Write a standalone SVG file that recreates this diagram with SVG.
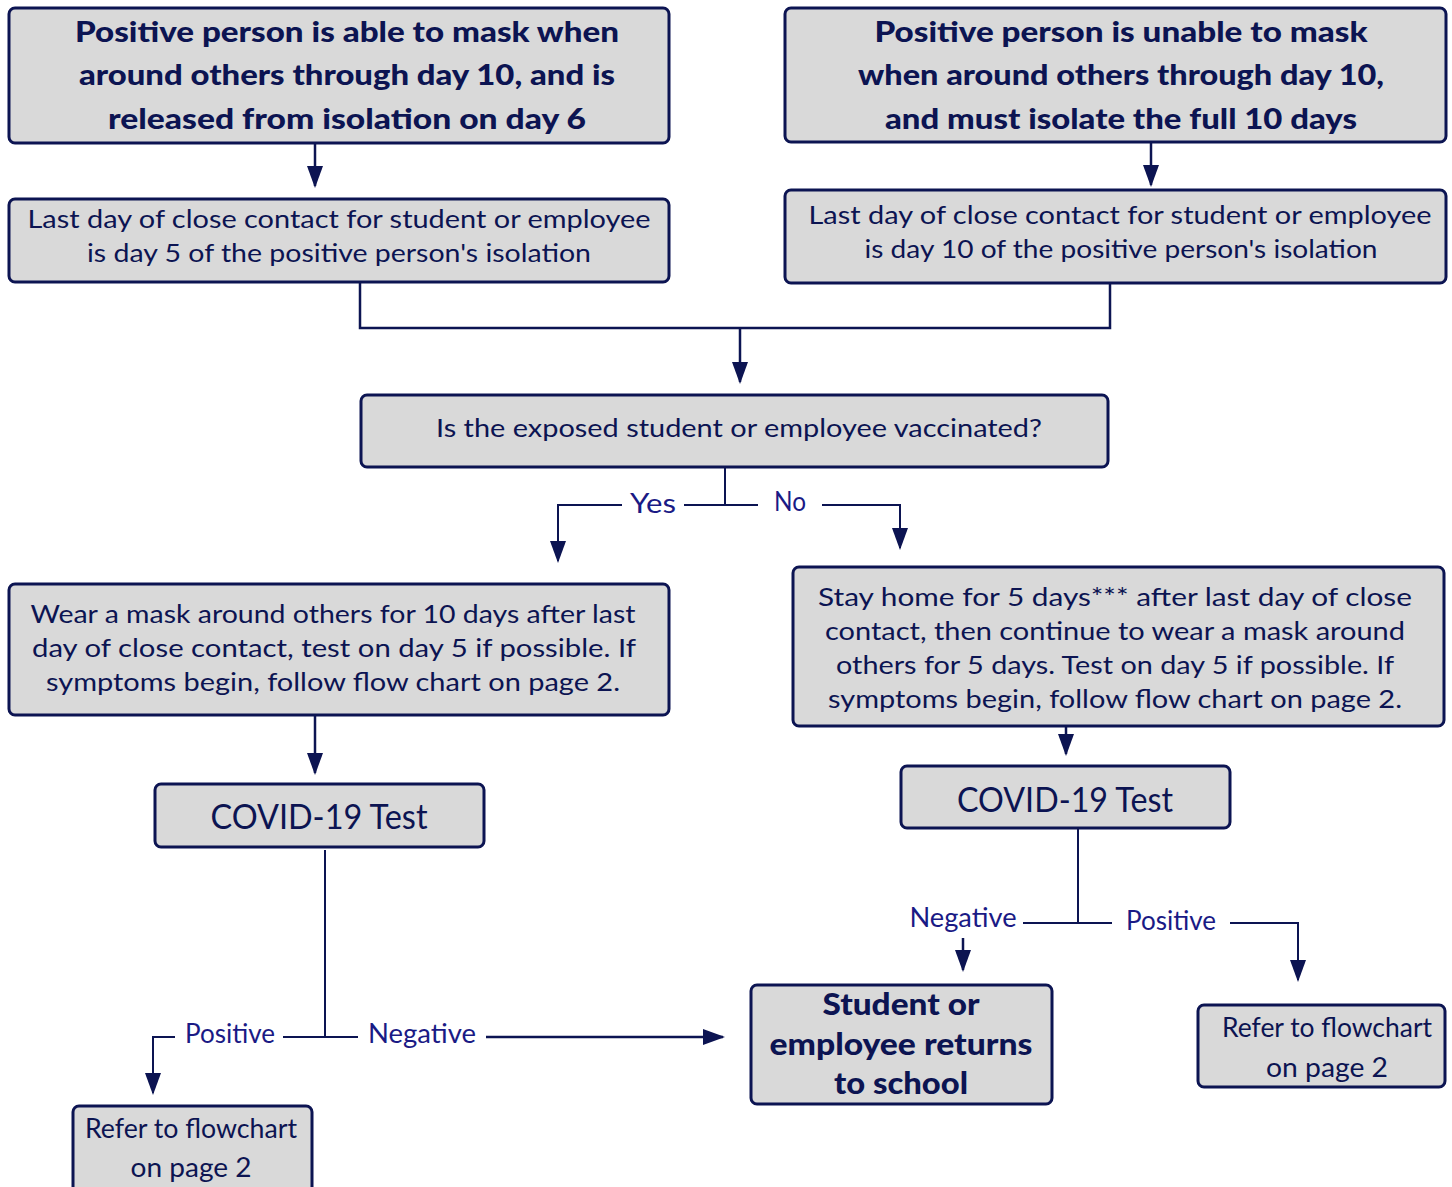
<svg xmlns="http://www.w3.org/2000/svg" width="1452" height="1187" viewBox="0 0 1452 1187">
<style>
.box{fill:#d9d9d9;stroke:#0c1452;stroke-width:3}
.b{font-family:Lato,"Liberation Sans",sans-serif;font-weight:900;fill:#0c1452;text-anchor:middle}
.r{font-family:Lato,"Liberation Sans",sans-serif;font-weight:400;fill:#0c1452;text-anchor:middle}
.lbl{font-family:Lato,"Liberation Sans",sans-serif;font-weight:400;fill:#1a1a85;text-anchor:middle;font-size:26px}
.ln{fill:none;stroke:#0c1452;stroke-width:2.5}
.th{fill:none;stroke:#0c1452;stroke-width:2}
</style>
<defs>
<marker id="ah" viewBox="0 0 22 16" refX="20" refY="8" markerWidth="22" markerHeight="16" markerUnits="userSpaceOnUse" orient="auto">
<path d="M0,0 L22,8 L0,16 z" fill="#0c1452"/>
</marker>
</defs>
<rect width="1452" height="1187" fill="#ffffff"/>
<g id="connectors">
<path class="ln" d="M315,143 V186" marker-end="url(#ah)"/>
<path class="ln" d="M1151,142 V185" marker-end="url(#ah)"/>
<path class="ln" d="M360,283 V328 H1110 V283"/>
<path class="ln" d="M740,328 V382" marker-end="url(#ah)"/>
<path class="th" d="M725,467 V505 H684"/>
<path class="th" d="M622,505 H558 V561" marker-end="url(#ah)"/>
<path class="th" d="M725,505 H758"/>
<path class="th" d="M822,505 H900 V548" marker-end="url(#ah)"/>
<path class="ln" d="M315,715 V773" marker-end="url(#ah)"/>
<path class="ln" d="M1066,726 V754" marker-end="url(#ah)"/>
<path class="th" d="M325,850 V1037"/>
<path class="th" d="M283,1037 H358"/>
<path class="th" d="M175,1037 H153 V1093" marker-end="url(#ah)"/>
<path class="ln" d="M486,1037 H723" marker-end="url(#ah)"/>
<path class="th" d="M1078,828 V923 H1023"/>
<path class="th" d="M1078,923 H1112"/>
<path class="th" d="M1230,923 H1298 V980" marker-end="url(#ah)"/>
<path class="ln" d="M963,938 V970" marker-end="url(#ah)"/>
<text class="lbl" x="653" y="513" textLength="46" lengthAdjust="spacingAndGlyphs">Yes</text>
<text class="lbl" x="790" y="511" textLength="32" lengthAdjust="spacingAndGlyphs">No</text>
<text class="lbl" x="230" y="1043" textLength="90" lengthAdjust="spacingAndGlyphs">Positive</text>
<text class="lbl" x="422" y="1043" textLength="108" lengthAdjust="spacingAndGlyphs">Negative</text>
<text class="lbl" x="963" y="927" textLength="107" lengthAdjust="spacingAndGlyphs">Negative</text>
<text class="lbl" x="1171" y="930" textLength="90" lengthAdjust="spacingAndGlyphs">Positive</text>
</g>
<g id="n1">
<rect class="box" x="9" y="8" width="660" height="135" rx="6"/>
<text class="b" font-size="28"><tspan x="347" y="42" textLength="544" lengthAdjust="spacingAndGlyphs">Positive person is able to mask when</tspan><tspan x="347" y="85" textLength="536" lengthAdjust="spacingAndGlyphs">around others through day 10, and is</tspan><tspan x="347" y="129" textLength="478" lengthAdjust="spacingAndGlyphs">released from isolation on day 6</tspan></text>
</g>
<g id="n2">
<rect class="box" x="785" y="8" width="661" height="134" rx="6"/>
<text class="b" font-size="28"><tspan x="1121" y="42" textLength="493" lengthAdjust="spacingAndGlyphs">Positive person is unable to mask</tspan><tspan x="1121" y="85" textLength="526" lengthAdjust="spacingAndGlyphs">when around others through day 10,</tspan><tspan x="1121" y="129" textLength="472" lengthAdjust="spacingAndGlyphs">and must isolate the full 10 days</tspan></text>
</g>
<g id="n3">
<rect class="box" x="9" y="199" width="660" height="83" rx="6"/>
<text class="r" font-size="25"><tspan x="339" y="228" textLength="623" lengthAdjust="spacingAndGlyphs">Last day of close contact for student or employee</tspan><tspan x="339" y="262" textLength="504" lengthAdjust="spacingAndGlyphs">is day 5 of the positive person's isolation</tspan></text>
</g>
<g id="n4">
<rect class="box" x="785" y="190" width="661" height="93" rx="6"/>
<text class="r" font-size="25"><tspan x="1120" y="224" textLength="623" lengthAdjust="spacingAndGlyphs">Last day of close contact for student or employee</tspan><tspan x="1121" y="258" textLength="513" lengthAdjust="spacingAndGlyphs">is day 10 of the positive person's isolation</tspan></text>
</g>
<g id="n5">
<rect class="box" x="361" y="395" width="747" height="72" rx="6"/>
<text class="r" font-size="25" x="739" y="437" textLength="606" lengthAdjust="spacingAndGlyphs">Is the exposed student or employee vaccinated?</text>
</g>
<g id="n6">
<rect class="box" x="9" y="584" width="660" height="131" rx="6"/>
<text class="r" font-size="25"><tspan x="333" y="623" textLength="605" lengthAdjust="spacingAndGlyphs">Wear a mask around others for 10 days after last</tspan><tspan x="334" y="657" textLength="604" lengthAdjust="spacingAndGlyphs">day of close contact, test on day 5 if possible. If</tspan><tspan x="333" y="691" textLength="574" lengthAdjust="spacingAndGlyphs">symptoms begin, follow flow chart on page 2.</tspan></text>
</g>
<g id="n7">
<rect class="box" x="793" y="567" width="651" height="159" rx="6"/>
<text class="r" font-size="25"><tspan x="1115" y="606" textLength="594" lengthAdjust="spacingAndGlyphs">Stay home for 5 days*** after last day of close</tspan><tspan x="1115" y="640" textLength="580" lengthAdjust="spacingAndGlyphs">contact, then continue to wear a mask around</tspan><tspan x="1115" y="674" textLength="558" lengthAdjust="spacingAndGlyphs">others for 5 days. Test on day 5 if possible. If</tspan><tspan x="1115" y="708" textLength="574" lengthAdjust="spacingAndGlyphs">symptoms begin, follow flow chart on page 2.</tspan></text>
</g>
<g id="n8">
<rect class="box" x="155" y="784" width="329" height="63" rx="6"/>
<text class="r" font-size="34" x="319" y="829" textLength="217" lengthAdjust="spacingAndGlyphs">COVID-19 Test</text>
</g>
<g id="n9">
<rect class="box" x="901" y="766" width="329" height="62" rx="6"/>
<text class="r" font-size="34" x="1065" y="812" textLength="216" lengthAdjust="spacingAndGlyphs">COVID-19 Test</text>
</g>
<g id="n10">
<rect class="box" x="73" y="1106" width="239" height="90" rx="6"/>
<text class="r" font-size="26"><tspan x="191" y="1138" textLength="212" lengthAdjust="spacingAndGlyphs">Refer to flowchart</tspan><tspan x="191" y="1177" textLength="121" lengthAdjust="spacingAndGlyphs">on page 2</tspan></text>
</g>
<g id="n11">
<rect class="box" x="751" y="985" width="301" height="119" rx="6"/>
<text class="b" font-size="30"><tspan x="901" y="1015" textLength="157" lengthAdjust="spacingAndGlyphs">Student or</tspan><tspan x="901" y="1055" textLength="263" lengthAdjust="spacingAndGlyphs">employee returns</tspan><tspan x="901" y="1094" textLength="134" lengthAdjust="spacingAndGlyphs">to school</tspan></text>
</g>
<g id="n12">
<rect class="box" x="1198" y="1005" width="247" height="82" rx="6"/>
<text class="r" font-size="26"><tspan x="1327" y="1037" textLength="210" lengthAdjust="spacingAndGlyphs">Refer to flowchart</tspan><tspan x="1327" y="1077" textLength="122" lengthAdjust="spacingAndGlyphs">on page 2</tspan></text>
</g>
</svg>
